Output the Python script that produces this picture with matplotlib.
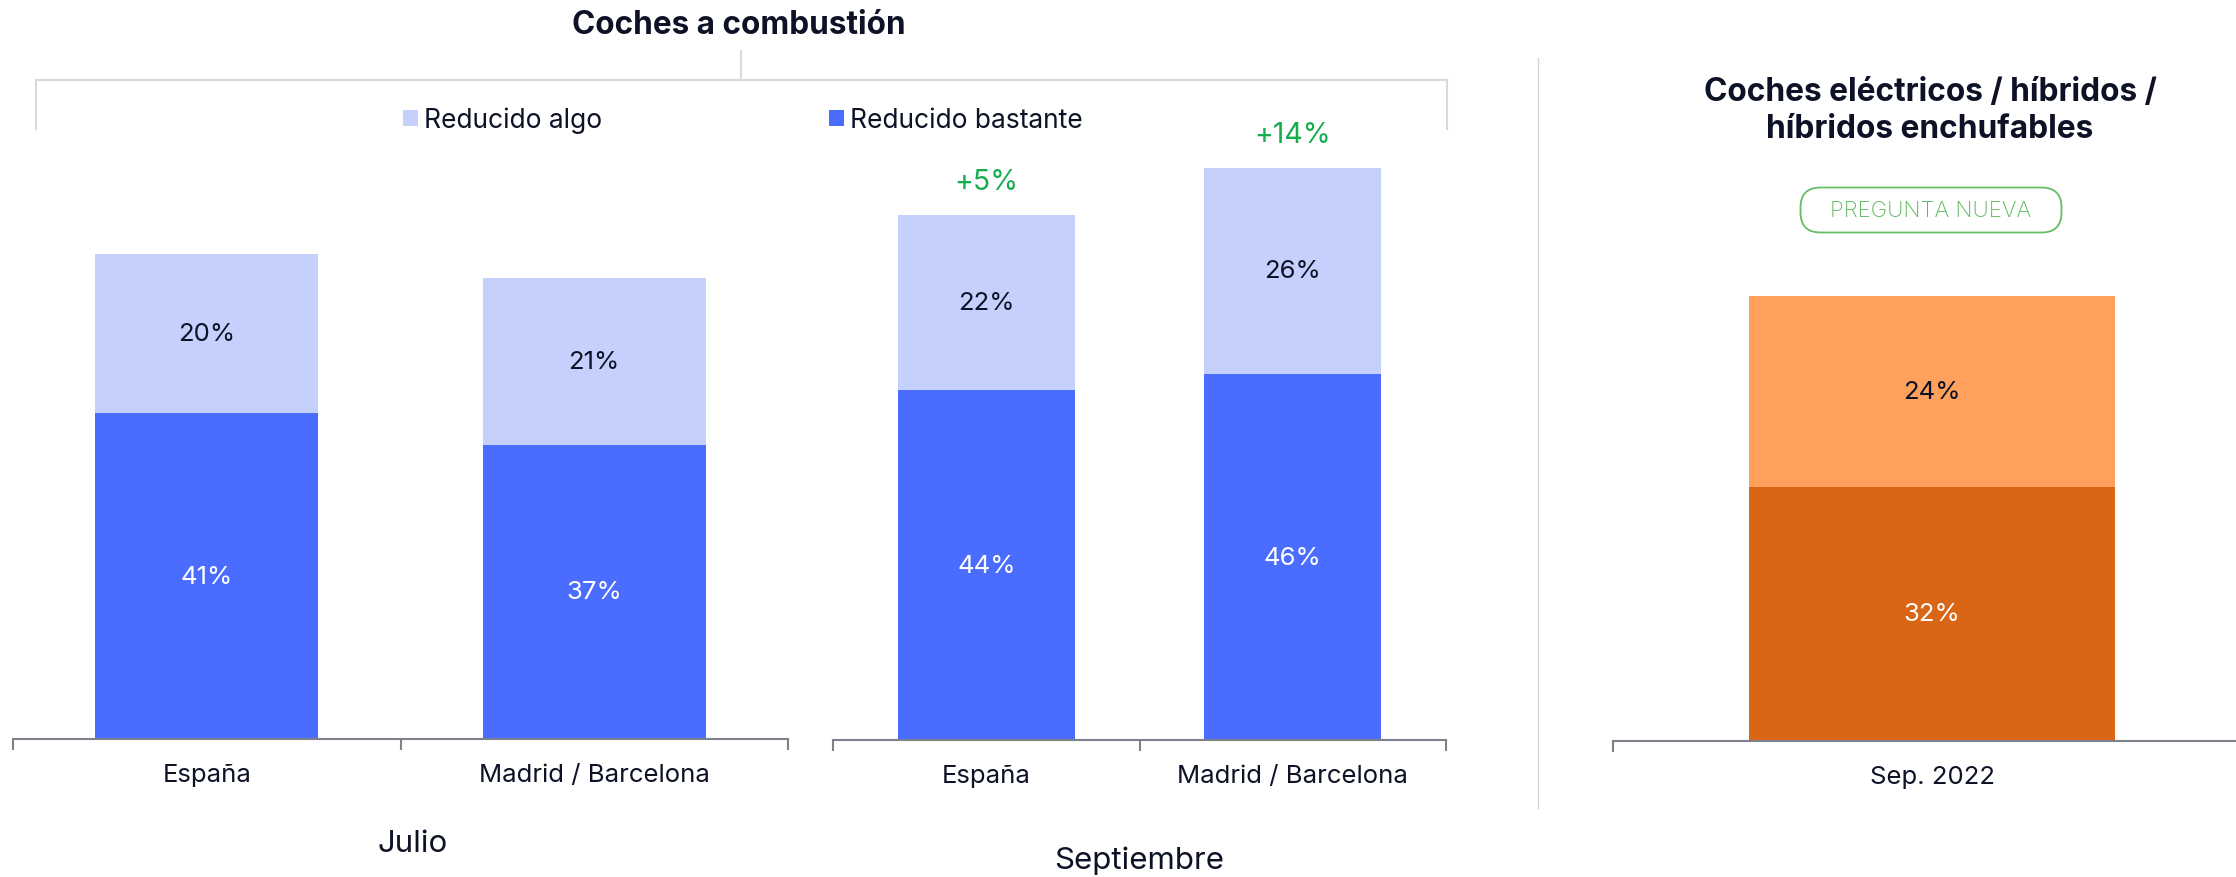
"""
Reducción del uso de coches: combustión (Julio / Septiembre) vs eléctricos
"""
import matplotlib.pyplot as plt
from matplotlib.lines import Line2D
from matplotlib.patches import FancyBboxPatch

plt.rcParams['font.family'] = ['Inter', 'DejaVu Sans']

# data
regions = ['España', 'Madrid / Barcelona']
jul_bastante = [41, 37]
jul_algo = [20, 21]
sep_bastante = [44, 46]
sep_algo = [22, 26]
elec_labels = ['Sep. 2022']
elec_bastante = [32]
elec_algo = [24]

C_LIGHT = '#C5D0FC'
C_DARK = '#4A6DFF'
O_LIGHT = '#FFA15C'
O_DARK = '#D96614'
TXT = '#0D1226'
GREEN = '#14AE4F'
SPINE = '#7D828C'

W, H = 2236, 878
fig = plt.figure(figsize=(W / 100, H / 100), dpi=100)
PX = 7.95  # pixels per percentage point


def make_axes(x0, x1, base, top=100):
    h = base - top
    ax = fig.add_axes([x0 / W, (H - base) / H, (x1 - x0) / W, h / H])
    ax.set_ylim(0, h / PX)
    for s in ['top', 'right', 'left']:
        ax.spines[s].set_visible(False)
    ax.spines['bottom'].set_color(SPINE)
    ax.spines['bottom'].set_linewidth(1.5)
    ax.set_yticks([])
    ax.patch.set_alpha(0)
    return ax


def stacked(ax, labels, dark, light, cdark, clight, width=0.576):
    x = list(range(len(labels)))
    b1 = ax.bar(x, dark, width, color=cdark, label='Reducido bastante')
    b2 = ax.bar(x, light, width, bottom=dark, color=clight, label='Reducido algo')
    ax.bar_label(b1, labels=[f'{v}%' for v in dark], label_type='center',
                 color='white', fontsize=18.5)
    ax.bar_label(b2, labels=[f'{v}%' for v in light], label_type='center',
                 color=TXT, fontsize=18.5)
    n = len(labels)
    ax.set_xlim(-0.5, n - 0.5)
    ax.set_xticks(x, labels, fontsize=18.5, color=TXT)
    ax.set_xticks([i - 0.5 for i in range(n + 1)], minor=True)
    ax.tick_params(axis='x', which='major', length=0, pad=17)
    ax.tick_params(axis='x', which='minor', length=8, width=1.5, color=SPINE)
    return b1, b2


ax1 = make_axes(13, 788, 740)
b_dark, b_light = stacked(ax1, regions, jul_bastante, jul_algo, C_DARK, C_LIGHT)

ax2 = make_axes(833, 1446, 741)
stacked(ax2, regions, sep_bastante, sep_algo, C_DARK, C_LIGHT)

# change vs Julio above Septiembre bars
tot_jul = [a + b for a, b in zip(jul_bastante, jul_algo)]
tot_sep = [a + b for a, b in zip(sep_bastante, sep_algo)]
for i, (tj, ts) in enumerate(zip(tot_jul, tot_sep)):
    ax2.annotate(f'+{ts - tj}%', (i, ts), xytext=(0, 24), textcoords='offset points',
                 ha='center', va='center', color=GREEN, fontsize=20.5)

ax3 = make_axes(1613, 2251, 742)
stacked(ax3, elec_labels, elec_bastante, elec_algo, O_DARK, O_LIGHT, width=0.575)

# group labels
fig.text(413 / W, 1 - 844 / H, 'Julio', ha='center', va='center', fontsize=22.5, color=TXT)
fig.text(1139 / W, 1 - 861 / H, 'Septiembre', ha='center', va='center', fontsize=22.5, color=TXT)

# titles
fig.text(739 / W, 1 - 25 / H, 'Coches a combustión', ha='center', va='center',
         fontsize=22.7, fontweight='bold', color=TXT)
fig.text(1930 / W, 1 - 111 / H, 'Coches eléctricos / híbridos /\nhíbridos enchufables',
         ha='center', va='center', fontsize=22.8, fontweight='bold', color=TXT,
         linespacing=1.25)

# bracket under the left title
bk = '#D9D9D9'
for xs, ys in [([741, 741], [52, 81]), ([36, 1447], [81, 81]),
               ([36, 36], [81, 130]), ([1447, 1447], [81, 130])]:
    fig.add_artist(Line2D([x / W for x in xs], [1 - y / H for y in ys],
                          color=bk, lw=1.5, transform=fig.transFigure))

# separator
fig.add_artist(Line2D([1538 / W] * 2, [1 - 59 / H, 1 - 809 / H], color='#D3D3D3',
                      lw=1, transform=fig.transFigure))

# legend (two entries placed apart)
for handle, x0 in [(b_light, 403), (b_dark, 829)]:
    fig.legend(handles=[handle], loc='center left', bbox_to_anchor=(x0 / W, 1 - 121 / H),
               frameon=False, fontsize=19, handlelength=0.55, handleheight=0.55,
               handletextpad=0.25, borderpad=0, borderaxespad=0, labelcolor=TXT)

# "PREGUNTA NUEVA" badge
bw, bh = 261, 45
bx, by = 1931 - bw / 2, 211 + bh / 2
badge = FancyBboxPatch((bx / 100, (H - by) / 100), bw / 100, bh / 100,
                       boxstyle='round,pad=0,rounding_size=0.2',
                       transform=fig.dpi_scale_trans, facecolor='white',
                       edgecolor='#66BD66', lw=1.3)
fig.add_artist(badge)
fig.text(1931 / W, 1 - 211 / H, 'PREGUNTA NUEVA', ha='center', va='center',
         fontsize=16, fontweight='light', color='#5DB85D')

fig.savefig('out.png', dpi=100)
